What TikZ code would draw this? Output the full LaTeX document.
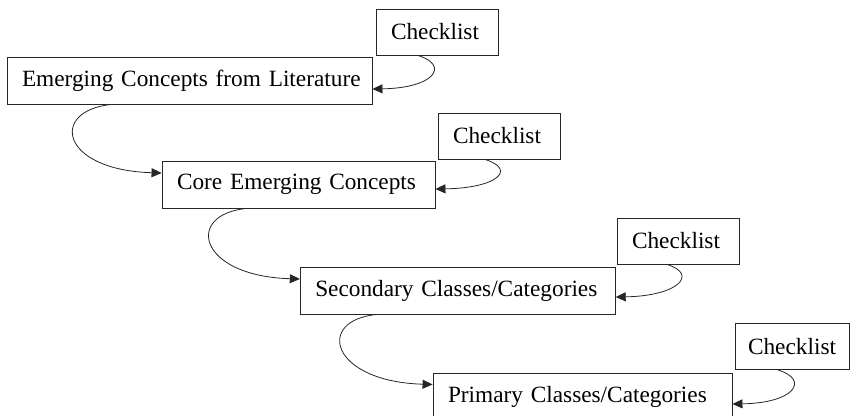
\documentclass[tikz,border=0pt]{standalone}
\usepackage{fontspec}
\setmainfont{Liberation Serif}
\usetikzlibrary{arrows.meta,calc}
\begin{document}
\begin{tikzpicture}[x=1pt,y=-1pt,
  box/.style={draw=black!85, line width=0.9pt, inner xsep=15pt, inner ysep=0pt,
    minimum height=47pt, align=left, font=\fontsize{23.3}{28}\selectfont},
  conn/.style={draw=black!85, line width=0.8pt, -{Triangle[length=10pt,width=9pt]}}]
\useasboundingbox (0,0) rectangle (850,415);
\node[box, text width=335pt] (e1) at (189.5,80.5) {\mbox{Emerging Concepts from Literature}};
\node[box, text width=92pt, minimum height=46pt] (c1) at (437,32) {\mbox{Checklist}};
\node[box, text width=243pt] (e2) at (298.5,184.5) {\mbox{Core Emerging Concepts}};
\node[box, text width=92pt, minimum height=46pt] (c2) at (499,136) {\mbox{Checklist}};
\node[box, text width=285pt] (e3) at (457.75,290.5) {\mbox{Secondary Classes/Categories}};
\node[box, text width=92pt, minimum height=46pt] (c3) at (678,241) {\mbox{Checklist}};
\node[box, text width=269pt] (e4) at (582.5,396.5) {\mbox{Primary Classes/Categories}};
\node[box, text width=88pt, inner xsep=13pt, minimum height=46pt] (c4) at (792,346.5) {\mbox{Checklist}};
% right-hand checklist connectors
\draw[conn] ($(c1.south)+(-19,0)$) .. controls +(32,10) and +(62,-1) .. ($(e1.east)+(0,8.5)$);
\draw[conn] ($(c2.south)+(-14,0)$) .. controls +(32,10) and +(62,-1) .. ($(e2.east)+(0,4.5)$);
\draw[conn] ($(c3.south)+(-11,0)$) .. controls +(32,10) and +(62,-1) .. ($(e3.east)+(0,6.5)$);
\draw[conn] ($(c4.south)+(-14,0)$) .. controls +(32,10) and +(62,-1) .. ($(e4.east)+(0,7.5)$);
% left-hand step connectors
\draw[conn] ($(e1.south west)+(105,0)$) .. controls +(-62,6) and +(-102,-3) .. ($(e2.west)+(0,-11.5)$);
\draw[conn] ($(e2.south west)+(85,0)$) .. controls +(-62,6) and +(-102,-3) .. ($(e3.west)+(0,-11.5)$);
\draw[conn] ($(e3.south west)+(77,0)$) .. controls +(-62,6) and +(-102,-3) .. ($(e4.west)+(0,-12)$);
\end{tikzpicture}
\end{document}
